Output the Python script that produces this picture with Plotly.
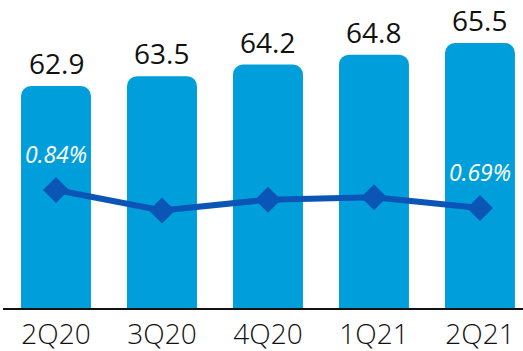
import plotly.graph_objects as go

categories = ["2Q20", "3Q20", "4Q20", "1Q21", "2Q21"]
bar_values = [62.9, 63.5, 64.2, 64.8, 65.5]
line_values = [0.84, 0.67, 0.76, 0.78, 0.69]
labeled_points = [0, 4]

x = list(range(len(categories)))

BAR = "#009FDB"
LINE = "#0A55B5"

fig = go.Figure()
fig.add_trace(go.Bar(
    x=x, y=bar_values, width=0.66,
    marker=dict(color=BAR, line=dict(width=0), cornerradius=10),
    hoverinfo="skip", showlegend=False,
))
fig.add_trace(go.Scatter(
    x=x, y=line_values, yaxis="y2", mode="lines+markers",
    line=dict(color=LINE, width=6),
    marker=dict(symbol="diamond", size=20, color=LINE),
    showlegend=False, hoverinfo="skip",
))

annotations = []
for xi, v in zip(x, bar_values):
    annotations.append(dict(
        x=xi, y=v, xref="x", yref="y", text=f"{v:.1f}", showarrow=False,
        yanchor="bottom", yshift=3, borderpad=0,
        font=dict(family="Open Sans", size=28, color="#111111", weight=400),
    ))
for i in labeled_points:
    annotations.append(dict(
        x=x[i], y=line_values[i], xref="x", yref="y2", text=f"{line_values[i]:.2f}%",
        showarrow=False, yanchor="bottom", yshift=18,
        font=dict(family="Open Sans", size=23, color="white", style="italic", weight=400),
    ))

fig.update_layout(
    width=523, height=351,
    margin=dict(l=3, r=0, t=0, b=43),
    paper_bgcolor="white", plot_bgcolor="white",
    xaxis=dict(
        range=[-0.5, 4.406], tickvals=x, ticktext=categories,
        showgrid=False, zeroline=False, showline=True, linecolor="#111111", linewidth=2,
        ticks="", tickfont=dict(family="Open Sans", size=28, color="#111111", weight=300),
    ),
    yaxis=dict(range=[49.5, 68.1], visible=False, showgrid=False),
    yaxis2=dict(range=[-0.143, 2.424], overlaying="y", visible=False, showgrid=False),
    annotations=annotations,
)

fig.write_html(
    "out.html",
    config={"displayModeBar": False, "staticPlot": True},
    post_script="document.body.style.margin='0';document.body.style.overflow='hidden';",
)
